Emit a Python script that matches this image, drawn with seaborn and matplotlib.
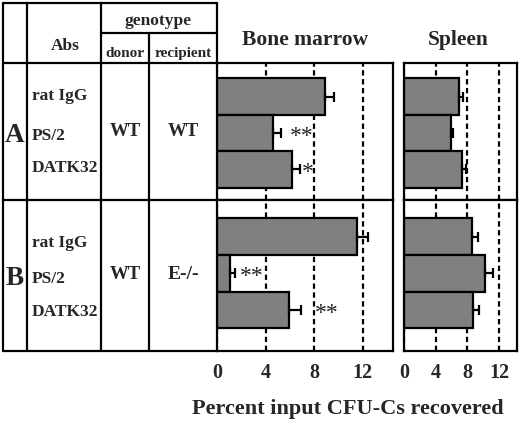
import matplotlib
matplotlib.use("Agg")
import matplotlib.pyplot as plt
from matplotlib.lines import Line2D
import seaborn as sns
import numpy as np

sns.set_theme(style="white")
plt.rcParams['font.family'] = ['Liberation Serif', 'DejaVu Serif']
plt.rcParams['font.weight'] = 'bold'

# ---- data ----
antibodies = ["rat IgG", "PS/2", "DATK32"]
bm_A = [8.9, 4.6, 6.2]
bm_A_err = [0.75, 0.65, 0.6]
sp_A = [6.9, 5.9, 7.3]
sp_A_err = [0.5, 0.3, 0.55]
bm_B = [11.5, 1.1, 5.95]
bm_B_err = [0.9, 0.35, 1.0]
sp_B = [8.6, 10.25, 8.75]
sp_B_err = [0.75, 1.0, 0.75]
xticks = [0, 4, 8, 12]
rows = ["A", "B"]
donor = ["WT", "WT"]
recipient = ["WT", "E-/-"]
sig_A = {1: "**", 2: "*"}
sig_B = {1: "**", 2: "**"}

W, H = 520, 429
fig = plt.figure(figsize=(W / 100, H / 100), dpi=100)
fig.patch.set_facecolor("white")

def rect(x0, y0, x1, y1):
    return [x0 / W, 1 - y1 / H, (x1 - x0) / W, (y1 - y0) / H]

LW = 1.6
BAR = "#808080"

def panel(box, vals, errs, xlim, ylim, sig, sigx, bottom):
    ax = fig.add_axes(box)
    sns.barplot(x=vals, y=antibodies, orient="h", color=BAR, saturation=1,
                width=1.0, edgecolor="black", linewidth=LW, errorbar=None, ax=ax)
    ax.errorbar(vals, np.arange(len(vals)), xerr=[np.zeros(len(vals)), errs],
                fmt="none", ecolor="black", elinewidth=LW, capsize=3.6,
                capthick=LW, zorder=3)
    for i, s in sig.items():
        ax.text(sigx[i], i + 0.09, s, ha="center", va="center", fontsize=17,
                fontweight="normal", family="Liberation Serif", color="#222222")
    ax.set_xlim(*xlim)
    ax.set_ylim(*ylim)
    ax.set_xticks(xticks)
    ax.set_yticks([])
    ax.set_ylabel("")
    ax.set_xlabel("")
    ax.set_axisbelow(True)
    ax.xaxis.grid(True, color="black", linewidth=LW, linestyle=(0, (2.4, 1.6)))
    ax.yaxis.grid(False)
    for sp in ax.spines.values():
        sp.set_visible(True)
        sp.set_color("black")
        sp.set_linewidth(LW)
    ax.tick_params(axis="x", length=0, pad=9, labelsize=14.5)
    if not bottom:
        ax.set_xticklabels([])
    else:
        for t in ax.get_xticklabels():
            t.set_fontweight("bold")
    ax.set_facecolor("white")
    return ax

bm_xlim = (0, 14.5)
sp_xlim = (0, 14.25)
panel(rect(217, 63, 393, 200), bm_A, bm_A_err, bm_xlim, (2.84, -0.92), sig_A, {1: 7.0, 2: 7.5}, False)
panel(rect(404, 63, 517, 200), sp_A, sp_A_err, sp_xlim, (2.84, -0.92), {}, {}, False)
panel(rect(217, 200, 393, 351), bm_B, bm_B_err, bm_xlim, (3.12, -1.0), sig_B, {1: 2.85, 2: 9.0}, True)
panel(rect(404, 200, 517, 351), sp_B, sp_B_err, sp_xlim, (3.12, -1.0), {}, {}, True)

# ---- table lines ----
def hline(y, x0, x1):
    fig.add_artist(Line2D([x0 / W, x1 / W], [1 - y / H, 1 - y / H], color="black",
                          linewidth=LW, transform=fig.transFigure))

def vline(x, y0, y1):
    fig.add_artist(Line2D([x / W, x / W], [1 - y0 / H, 1 - y1 / H], color="black",
                          linewidth=LW, transform=fig.transFigure))

hline(3, 3, 217)
hline(33, 100.7, 217)
hline(63, 3, 217)
hline(200, 3, 217)
hline(351, 3, 217)
vline(3, 3, 351)
vline(27, 3, 351)
vline(100.7, 3, 351)
vline(149, 33, 351)
vline(217, 3, 63)

def t(x, y, s, size, ha="center", va="baseline"):
    fig.text(x / W, 1 - y / H, s, fontsize=size, fontweight="bold", ha=ha, va=va)

t(65.5, 50, "Abs", 12.5)
t(158, 25, "genotype", 12.5)
t(125, 56.7, "donor", 11)
t(183, 56.7, "recipient", 11)
t(305, 45, "Bone marrow", 15.5)
t(458, 45, "Spleen", 15.5)

label_base = {"A": [100, 140, 172], "B": [246.7, 283.3, 315.7]}
row_base = {"A": 141.7, "B": 285}
for r, dn, rc in zip(rows, donor, recipient):
    t(15, row_base[r], r, 19.5)
    for lab, yb in zip(antibodies, label_base[r]):
        t(32, yb, lab, 12.5, ha="left")
    t(125, row_base[r] - 6, dn, 13.5)
    t(183, row_base[r] - 6, rc, 14 if rc != "WT" else 13.5)

t(348, 414, "Percent input CFU-Cs recovered", 16)

fig.savefig("out.png", dpi=100, facecolor="white")
